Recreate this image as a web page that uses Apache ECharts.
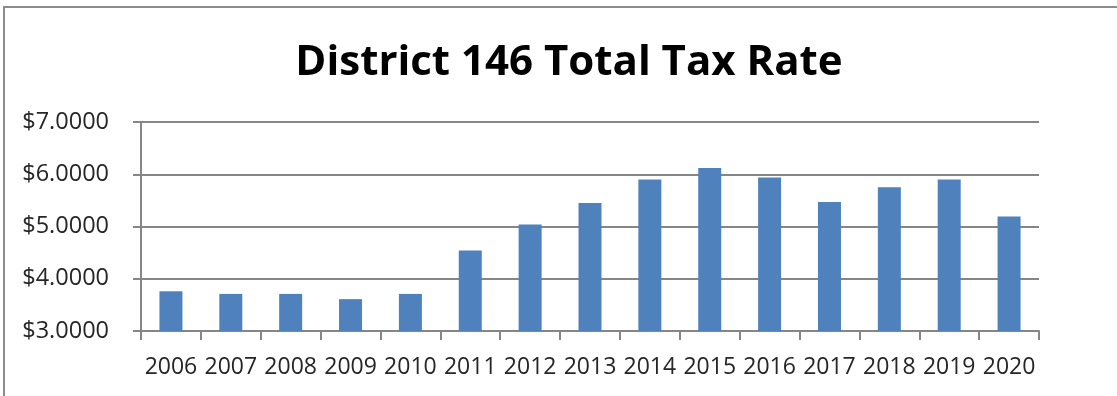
<!DOCTYPE html>
<html>
<head>
<meta charset="utf-8">
<script src="https://cdn.jsdelivr.net/npm/echarts@6/dist/echarts.min.js"></script>
<style>
  html, body { margin: 0; padding: 0; background: #fff; }
  #chart { width: 1117px; height: 396px; }
</style>
</head>
<body>
<div id="chart"></div>
<script>
// data
var years = ['2006', '2007', '2008', '2009', '2010', '2011', '2012', '2013',
             '2014', '2015', '2016', '2017', '2018', '2019', '2020'];
var taxRate = [3.76, 3.71, 3.71, 3.61, 3.71, 4.54, 5.04, 5.45,
               5.90, 6.12, 5.94, 5.47, 5.75, 5.90, 5.19];

var chart = echarts.init(document.getElementById('chart'));

var option = {
    animation: false,
    backgroundColor: '#fff',
    title: {
        text: 'District 146 Total Tax Rate',
        left: 564,
        top: 37,
        textAlign: 'center',
        textStyle: {
            fontFamily: 'Open Sans',
            fontWeight: 'bold',
            fontSize: 42,
            color: '#000'
        }
    },
    graphic: [{
        type: 'rect',
        shape: { x: 4, y: 7, width: 1130, height: 420 },
        style: { fill: 'none', stroke: '#8c8c8c', lineWidth: 2 },
        silent: true
    }],
    grid: { left: 141, right: 78, top: 122, bottom: 65 },
    xAxis: {
        type: 'category',
        data: years,
        axisLine: { lineStyle: { color: '#868686', width: 2 } },
        axisTick: { show: true, length: 9, lineStyle: { color: '#868686', width: 2 } },
        axisLabel: {
            interval: 0,
            margin: 25,
            fontFamily: 'Open Sans',
            fontSize: 23,
            color: '#262626'
        }
    },
    yAxis: {
        type: 'value',
        min: 3,
        max: 7,
        interval: 1,
        axisLine: { show: true, lineStyle: { color: '#868686', width: 2 } },
        axisTick: { show: true, length: 8, lineStyle: { color: '#868686', width: 2 } },
        splitLine: { lineStyle: { color: '#868686', width: 2 } },
        axisLabel: {
            margin: 32,
            fontFamily: 'Open Sans',
            fontSize: 23.5,
            color: '#262626',
            formatter: function (v) { return '$' + v.toFixed(4); }
        }
    },
    series: [{
        type: 'bar',
        data: taxRate,
        barWidth: 23,
        itemStyle: { color: '#4f81bd' }
    }]
};

chart.setOption(option);
</script>
</body>
</html>
